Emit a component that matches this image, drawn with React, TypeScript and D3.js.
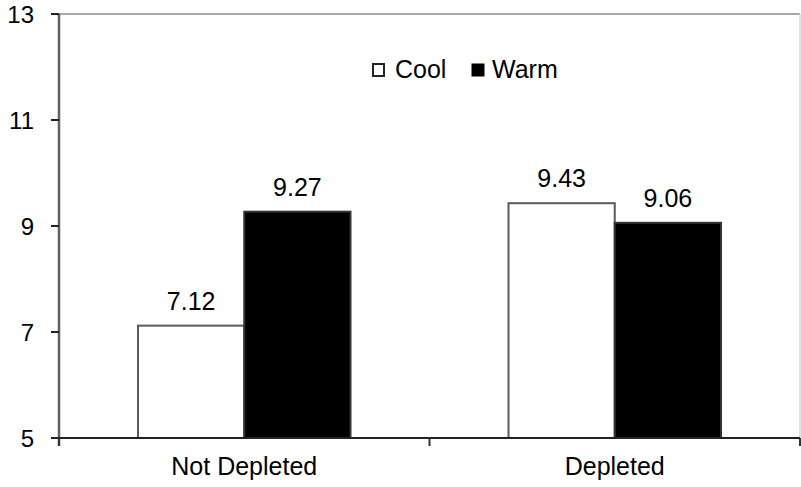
import React from "react";
import * as d3 from "d3";

const categories = ["Not Depleted", "Depleted"];
const seriesNames = ["Cool", "Warm"];
const coolValues = [7.12, 9.43];
const warmValues = [9.27, 9.06];
const yTicks = [5, 7, 9, 11, 13];

const W = 801;
const H = 487;
const left = 59;
const right = 800;
const top = 14;
const bottom = 438;
const FONT = "'Liberation Sans', Arial, sans-serif";

export default function App() {
  const x0 = d3
    .scaleBand<string>()
    .domain(categories)
    .range([left, right])
    .paddingInner(0.4265)
    .paddingOuter(0.4265 / 2);
  const x1 = d3.scaleBand<string>().domain(seriesNames).range([0, x0.bandwidth()]).padding(0);
  const y = d3.scaleLinear().domain([5, 13]).range([bottom, top]);

  const data = categories.map((c, i) => ({
    cat: c,
    vals: [
      { s: "Cool", v: coolValues[i] },
      { s: "Warm", v: warmValues[i] },
    ],
  }));

  const catTicks = [left, ...categories.map((c, i) => (i < categories.length - 1 ? (x0(c)! + x0.bandwidth() + x0(categories[i + 1])!) / 2 : null)).filter((v) => v !== null), right] as number[];

  return (
    <svg width={W} height={H} style={{ position: "absolute", left: 0, top: 0, background: "#fff" }}>
      <rect x={0} y={0} width={W} height={H} fill="#fff" />
      {/* plot border top and right */}
      <line x1={left} x2={right} y1={top} y2={top} stroke="#a8a8a8" strokeWidth={2} />
      <line x1={right} x2={right} y1={top} y2={bottom} stroke="#d8d8d8" strokeWidth={1.5} />
      {/* bars */}
      {data.map((d) =>
        d.vals.map((b) => {
          const bx = x0(d.cat)! + x1(b.s)!;
          const by = y(b.v);
          return (
            <rect
              key={d.cat + b.s}
              x={bx}
              y={by}
              width={x1.bandwidth()}
              height={bottom - by}
              fill={b.s === "Cool" ? "#fff" : "#000"}
              stroke={b.s === "Cool" ? "#5a5a5a" : "#333"}
              strokeWidth={2}
            />
          );
        })
      )}
      {/* value labels */}
      {data.map((d) =>
        d.vals.map((b) => (
          <text
            key={"l" + d.cat + b.s}
            x={x0(d.cat)! + x1(b.s)! + x1.bandwidth() / 2}
            y={y(b.v) - 16}
            textAnchor="middle"
            fontFamily={FONT}
            fontSize={25}
            fill="#000"
          >
            {b.v.toFixed(2)}
          </text>
        ))
      )}
      {/* y axis */}
      <line x1={left} x2={left} y1={top} y2={bottom + 8} stroke="#606060" strokeWidth={2.5} />
      {yTicks.map((t) => (
        <g key={t}>
          <line x1={left - 8} x2={left} y1={y(t)} y2={y(t)} stroke="#222" strokeWidth={2} />
          <text
            x={34}
            y={y(t) + 9}
            textAnchor="end"
            fontFamily={FONT}
            fontSize={24}
            fill="#000"
          >
            {t}
          </text>
        </g>
      ))}
      {/* x axis */}
      <line x1={left - 8} x2={right} y1={bottom} y2={bottom} stroke="#222" strokeWidth={2} />
      {catTicks.map((t, i) => (
        <line key={"ct" + i} x1={t} x2={t} y1={bottom} y2={bottom + 8} stroke="#333" strokeWidth={2} />
      ))}
      {categories.map((c) => (
        <text
          key={c}
          x={x0(c)! + x0.bandwidth() / 2}
          y={475}
          textAnchor="middle"
          fontFamily={FONT}
          fontSize={25}
          fill="#000"
        >
          {c}
        </text>
      ))}
      {/* legend */}
      <rect x={373} y={64} width={11} height={12} fill="#fff" stroke="#222" strokeWidth={2} />
      <text x={395} y={78} fontFamily={FONT} fontSize={25} fill="#000">
        {seriesNames[0]}
      </text>
      <rect x={472} y={64} width={12} height={12} fill="#000" stroke="#000" strokeWidth={1} />
      <text x={492} y={78} fontFamily={FONT} fontSize={25} fill="#000">
        {seriesNames[1]}
      </text>
    </svg>
  );
}
